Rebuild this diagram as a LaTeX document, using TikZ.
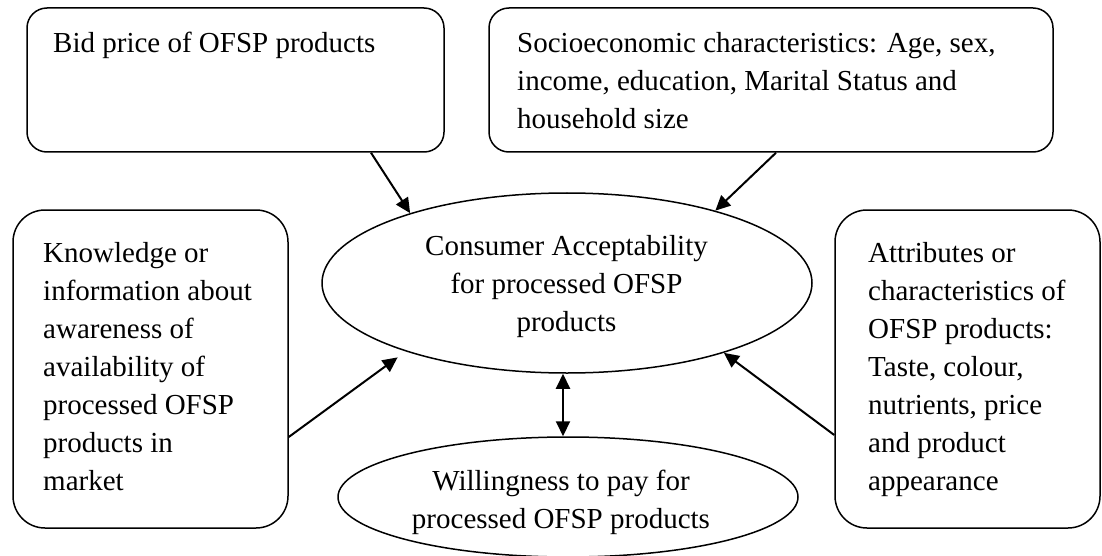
\documentclass[tikz,border=0pt]{standalone}
\usepackage{fontspec}
\setmainfont{Liberation Serif}
\usetikzlibrary{arrows.meta,shapes.geometric}
\begin{document}
\begin{tikzpicture}[x=1pt,y=-1pt,
  box/.style={draw, line width=1.5pt, inner sep=0pt},
  oval/.style={draw, ellipse, line width=1.5pt, inner sep=0pt},
  txt/.style={inner sep=0pt, anchor=base west, font=\fontsize{29}{38}\selectfont},
  ctxt/.style={inner sep=0pt, anchor=base, font=\fontsize{29}{38}\selectfont},
  tip/.style={Triangle[length=15pt,width=14pt]},
  arr/.style={line width=2pt, -{Triangle[length=15pt,width=14pt]}},
  darr/.style={line width=2pt, {Triangle[length=15pt,width=14pt]}-{Triangle[length=15pt,width=14pt]}},
]
\fill[white] (0,0) rectangle (1102,556);
\useasboundingbox (0,0) rectangle (1102,556);

% boxes
\node[box, rounded corners=20pt, minimum width=417pt, minimum height=144pt] (b1) at (235.5,80) {};
\node[box, rounded corners=20pt, minimum width=564pt, minimum height=144pt] (b2) at (771,80) {};
\node[box, rounded corners=32pt, minimum width=275pt, minimum height=318pt] (b3) at (150.5,369) {};
\node[box, rounded corners=32pt, minimum width=265pt, minimum height=318pt] (b4) at (967.5,369) {};

% ellipses
\node[oval, minimum width=490pt, minimum height=180pt] (e1) at (567,283) {};
\node[oval, minimum width=460pt, minimum height=120pt] (e2) at (568,497) {};

% texts
\node[txt] (t1) at (53,53) {\parbox[t]{380pt}{\raggedright Bid price of OFSP products}};
\node[txt] (t2) at (517,53) {\parbox[t]{530pt}{\raggedright Socioeconomic characteristics: Age, sex,\\ income, education, Marital Status and\\ household size}};
\node[txt] (t3) at (43,262) {\parbox[t]{240pt}{\raggedright Knowledge or\\ information about\\ awareness of\\ availability of\\ processed OFSP\\ products in\\ market}};
\node[txt] (t4) at (868,262) {\parbox[t]{230pt}{\raggedright Attributes or\\ characteristics of\\ OFSP products:\\ Taste, colour,\\ nutrients, price\\ and product\\ appearance}};
\node[ctxt] (t5) at (566.5,255) {\parbox[t]{420pt}{\centering Consumer Acceptability\\ for processed OFSP\\ products}};
\node[ctxt] (t6) at (561,490) {\parbox[t]{420pt}{\centering Willingness to pay for\\ processed OFSP products}};

% connectors
\draw[arr] ([xshift=135.5pt]b1.south) -- (e1.156.4);
\draw[arr] ([xshift=5pt]b2.south) -- (e1.26.7);
\draw[arr, shorten >=10pt] ([yshift=-68pt]b3.east) -- (e1.203.7);
\draw[arr] ([yshift=-66pt]b4.west) -- (e1.336.8);
\draw[darr] ([xshift=-4pt]e1.south) -- ([xshift=-4pt]e1.south |- e2.north);
\end{tikzpicture}
\end{document}
